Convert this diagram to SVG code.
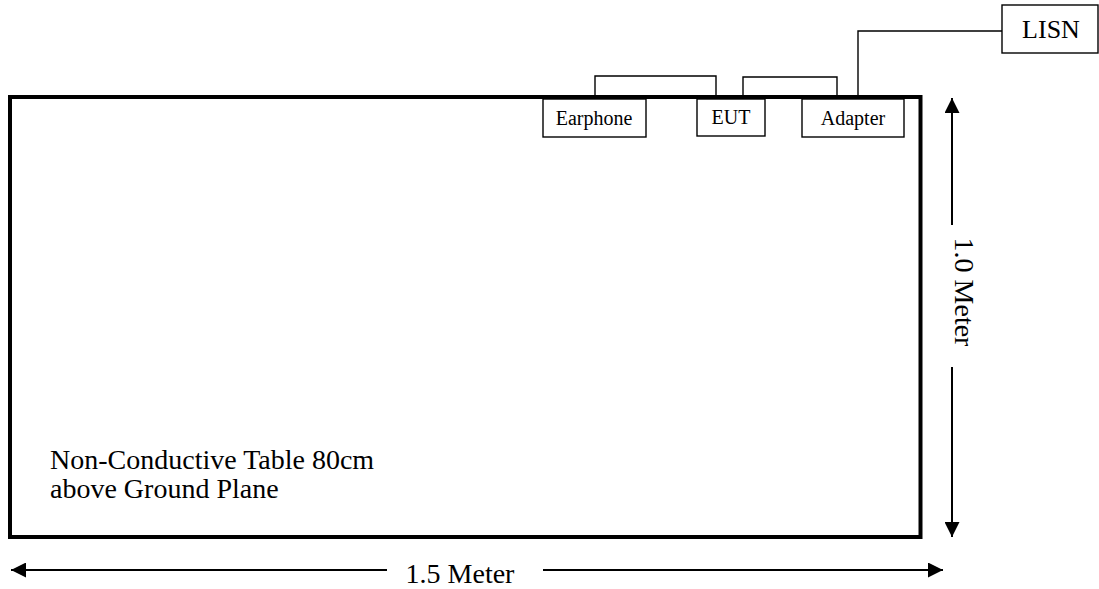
<svg xmlns="http://www.w3.org/2000/svg" width="1099" height="589" viewBox="0 0 1099 589">
<style>
text{font-family:"Liberation Serif","Times New Roman",serif;fill:#000}
.box{fill:#fff;stroke:#000;stroke-width:1.4}
.wire{fill:none;stroke:#000;stroke-width:1.4}
.dim{fill:none;stroke:#000;stroke-width:2}
.lbl{font-size:20px;text-anchor:middle}
.big{font-size:28px}
</style>
<defs>
<marker id="ah" viewBox="0 0 15 15" refX="15" refY="7.5" markerWidth="15" markerHeight="15" markerUnits="userSpaceOnUse" orient="auto">
<path d="M0,0 L15,7.5 L0,15 z" fill="#000"/>
</marker>
</defs>
<g id="table">
<rect x="10" y="97" width="910.5" height="440" fill="#fff" stroke="#000" stroke-width="4"/>
<text class="big" x="50" y="469">Non-Conductive Table 80cm</text>
<text class="big" x="50" y="498">above Ground Plane</text>
</g>
<g id="connectors">
<polyline class="wire" points="595,97 595,76 716,76 716,97"/>
<polyline class="wire" points="743,97 743,77 837,77 837,97"/>
<polyline class="wire" points="858,97 858,31 1002,31"/>
</g>
<g id="earphone">
<rect class="box" x="543" y="99" width="103" height="38"/>
<text class="lbl" x="594" y="125">Earphone</text>
</g>
<g id="eut">
<rect class="box" x="697" y="99" width="68" height="37"/>
<text class="lbl" x="731" y="124">EUT</text>
</g>
<g id="adapter">
<rect class="box" x="802" y="99" width="102" height="38"/>
<text class="lbl" x="853" y="125">Adapter</text>
</g>
<g id="lisn">
<rect class="box" x="1002" y="5" width="96" height="48"/>
<text x="1051" y="38" font-size="26" text-anchor="middle">LISN</text>
</g>
<g id="dimensions">
<line class="dim" x1="952" y1="225" x2="952" y2="98" marker-end="url(#ah)"/>
<line class="dim" x1="952" y1="367" x2="952" y2="537" marker-end="url(#ah)"/>
<text class="big" transform="translate(955,292) rotate(90)" text-anchor="middle">1.0 Meter</text>
<line class="dim" x1="387" y1="570" x2="11" y2="570" marker-end="url(#ah)"/>
<line class="dim" x1="543" y1="570" x2="943" y2="570" marker-end="url(#ah)"/>
<text class="big" x="460" y="583" text-anchor="middle">1.5 Meter</text>
</g>
</svg>
